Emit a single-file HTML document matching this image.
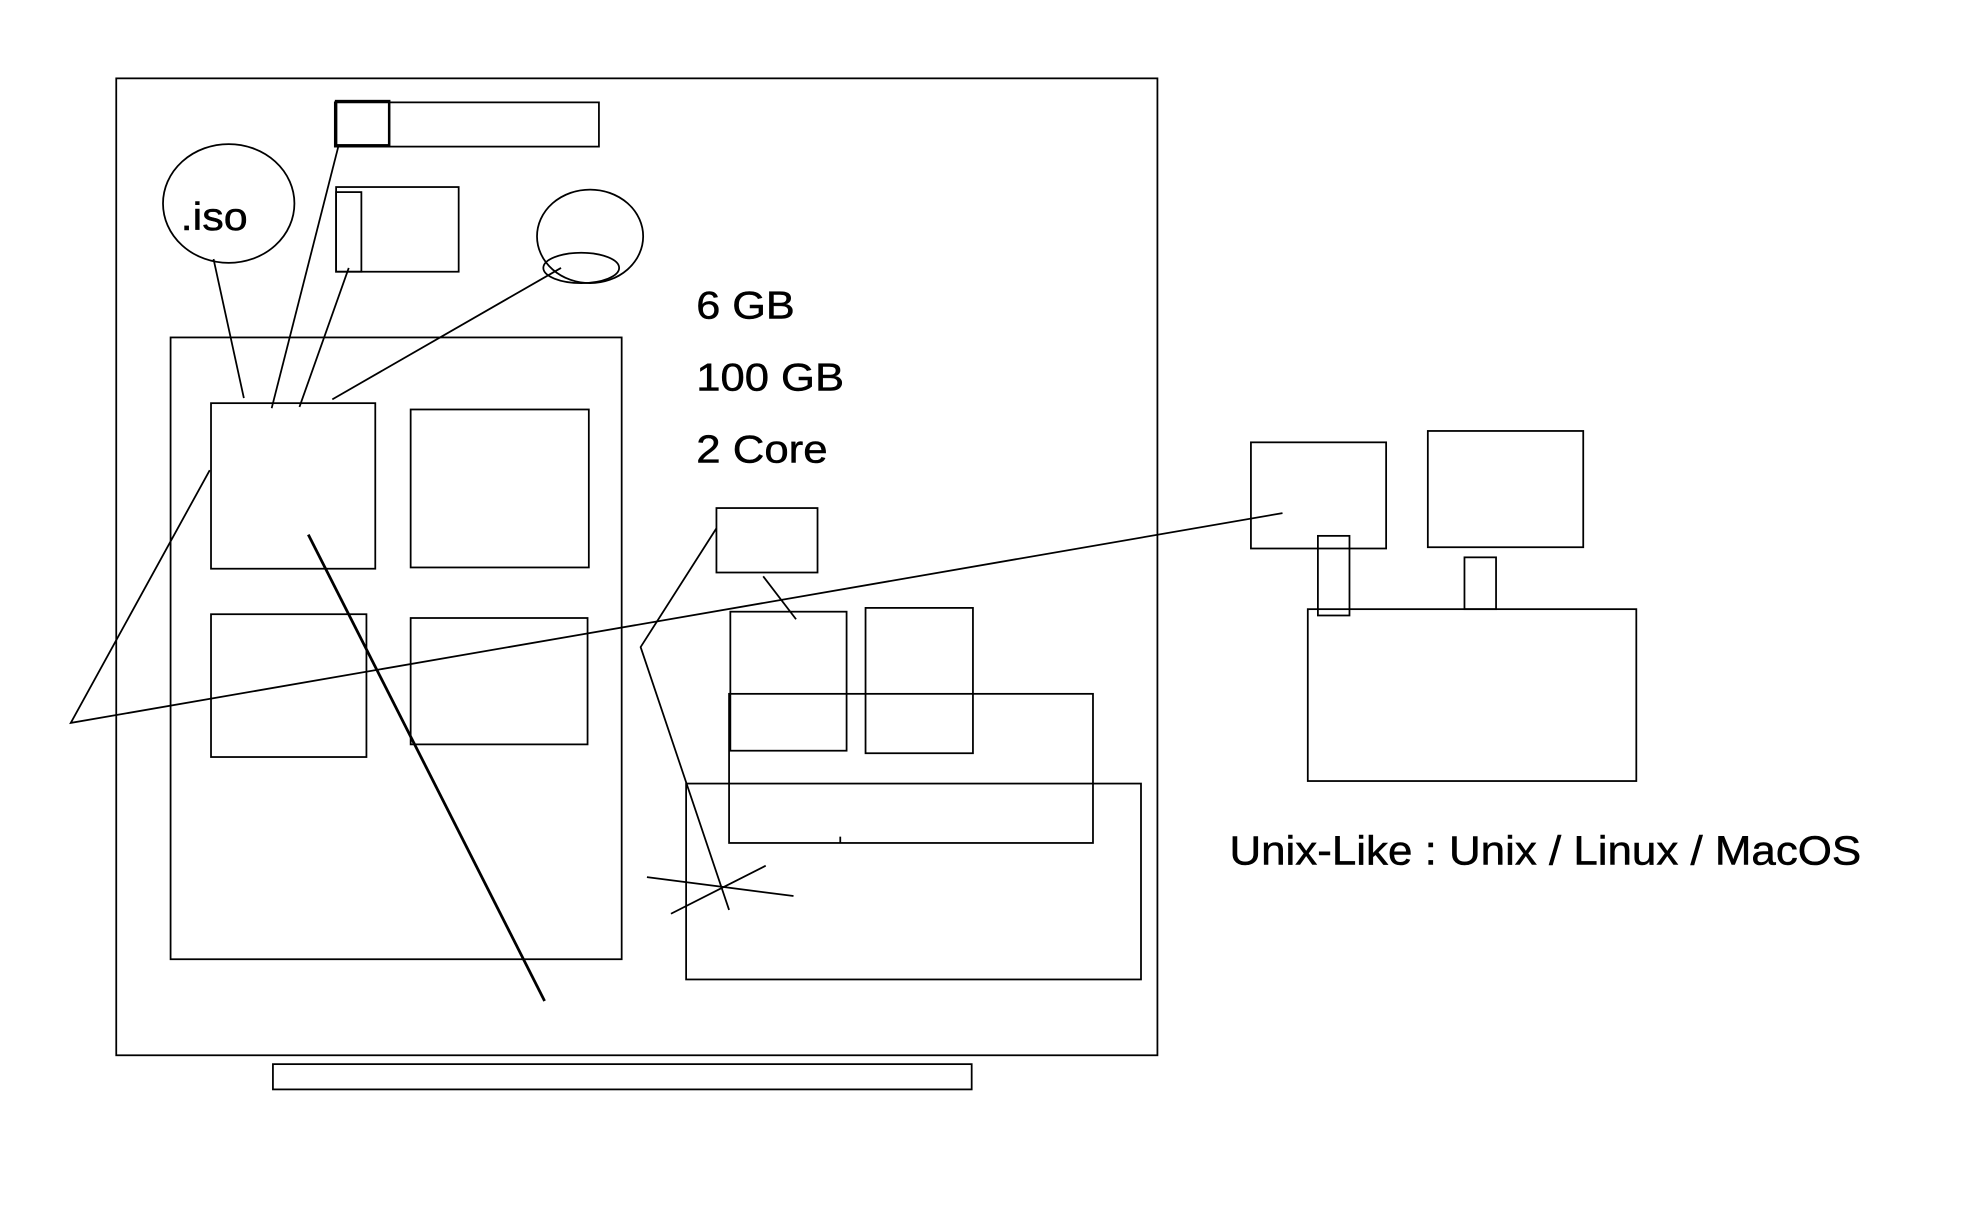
<!DOCTYPE html>
<html><head><style>html,body{margin:0;padding:0;background:#fff;}svg{display:block}</style></head>
<body>
<svg width="1980" height="1212" viewBox="0 0 1567 959" preserveAspectRatio="none" xmlns="http://www.w3.org/2000/svg">
<g fill="none" stroke="#000" stroke-width="1.4">
<rect x="92" y="62" width="824" height="773"/>
<rect x="265" y="81" width="209" height="35"/>
<rect x="266" y="80" width="42" height="35" stroke-width="2"/>
<ellipse cx="181" cy="161" rx="52" ry="47"/>
<rect x="266" y="148" width="97" height="67"/>
<rect x="266" y="152" width="20" height="63"/>
<ellipse cx="467" cy="187" rx="42" ry="37"/>
<ellipse cx="460" cy="212" rx="30" ry="12"/>
<line x1="169" y1="205" x2="193" y2="315"/>
<line x1="268" y1="115" x2="215" y2="323"/>
<line x1="276" y1="212" x2="237" y2="322"/>
<line x1="444" y1="212" x2="263" y2="316"/>
<rect x="135" y="267" width="357" height="492"/>
<rect x="167" y="319" width="130" height="131"/>
<rect x="325" y="324" width="141" height="125"/>
<rect x="167" y="486" width="123" height="113"/>
<rect x="325" y="489" width="140" height="100"/>
<rect x="567" y="402" width="80" height="51"/>
<line x1="604" y1="456" x2="630" y2="490"/>
<rect x="578" y="484" width="92" height="110"/>
<rect x="685" y="481" width="85" height="115"/>
<rect x="577" y="549" width="288" height="118"/>
<rect x="543" y="620" width="360" height="155"/>
<line x1="665" y1="662" x2="665" y2="667"/>
<polyline points="567,418 507,512 577,720"/>
<line x1="512" y1="694" x2="628" y2="709"/>
<line x1="531" y1="723" x2="606" y2="685"/>
<polyline points="166,372 56,572 1015,406"/>
<line x1="244" y1="423" x2="431" y2="792" stroke-width="2.2"/>
<rect x="216" y="842" width="553" height="20"/>
<rect x="990" y="350" width="107" height="84"/>
<rect x="1130" y="341" width="123" height="92"/>
<rect x="1043" y="424" width="25" height="63"/>
<rect x="1159" y="441" width="25" height="41"/>
<rect x="1035" y="482" width="260" height="136"/>
</g>
<g font-family="Liberation Sans, sans-serif" fill="#000" stroke="#000" stroke-width="0.4">
<text x="143" y="182" font-size="31" textLength="53" lengthAdjust="spacingAndGlyphs">.iso</text>
<text x="551" y="252" font-size="31" textLength="78" lengthAdjust="spacingAndGlyphs">6 GB</text>
<text x="551" y="309" font-size="31" textLength="117" lengthAdjust="spacingAndGlyphs">100 GB</text>
<text x="551" y="366" font-size="31" textLength="104" lengthAdjust="spacingAndGlyphs">2 Core</text>
<text x="973" y="684" font-size="32" textLength="500" lengthAdjust="spacingAndGlyphs">Unix-Like : Unix / Linux / MacOS</text>
</g>
</svg>
</body></html>
